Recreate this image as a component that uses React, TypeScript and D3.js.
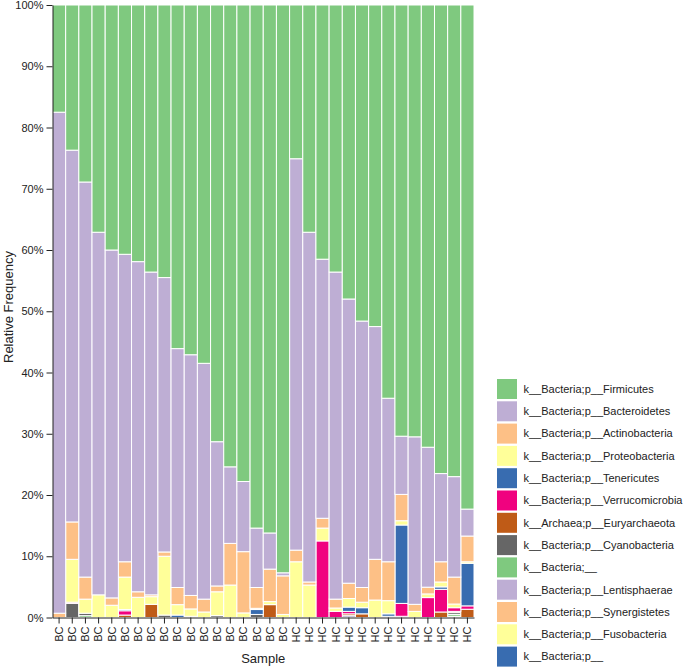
import React, { useEffect, useRef } from "react";
import * as d3 from "d3";

const samples = [
  "BC","BC","BC","BC","BC","BC","BC","BC","BC","BC","BC","BC","BC","BC","BC","BC","BC","BC",
  "HC","HC","HC","HC","HC","HC","HC","HC","HC","HC","HC","HC","HC","HC",
];

const taxa = [
  "k__Bacteria;p__Firmicutes",
  "k__Bacteria;p__Bacteroidetes",
  "k__Bacteria;p__Actinobacteria",
  "k__Bacteria;p__Proteobacteria",
  "k__Bacteria;p__Tenericutes",
  "k__Bacteria;p__Verrucomicrobia",
  "k__Archaea;p__Euryarchaeota",
  "k__Bacteria;p__Cyanobacteria",
  "k__Bacteria;__",
  "k__Bacteria;p__Lentisphaerae",
  "k__Bacteria;p__Synergistetes",
  "k__Bacteria;p__Fusobacteria",
  "k__Bacteria;p__",
];

// percentages per sample
const firmicutes = [17.5,23.7,28.9,37.1,40.0,40.7,41.9,43.6,44.5,56.1,57.1,58.5,71.3,75.4,77.8,85.4,86.2,92.7,25.1,37.1,41.5,43.6,48.0,51.6,52.5,64.2,70.4,70.5,72.2,76.5,77.0,82.3];
const bacteroidetes = [81.8,60.7,64.5,59.2,56.8,50.2,53.9,52.7,44.8,39.0,39.3,38.5,23.55,12.5,11.45,9.7,5.9,0.5,63.9,57.1,42.3,53.4,46.4,43.5,38.0,26.7,9.5,27.35,22.85,14.4,16.4,4.4];
const actinobacteria = [0.7,6.1,3.6,0,1.2,2.5,0.9,0.3,0.7,2.8,2.2,2.1,0.95,6.8,10.0,3.4,5.3,6.3,1.9,0.5,1.6,1.45,2.5,2.4,6.65,6.35,4.3,1.15,1.1,3.3,4.4,4.2];
const proteobacteria = [0,7.0,2.3,3.7,2.0,5.3,3.3,1.25,9.6,1.7,1.2,0.9,3.9,5.3,0.75,0.2,0.5,0.5,9.1,5.3,2.1,0.55,1.4,0.9,2.85,2.15,0.7,1.0,0.6,0.8,0.6,0.25];
const tenericutes = [0,0,0,0,0,0.2,0,0,0,0.4,0,0,0,0,0,0.8,0,0,0,0,0,0,0.7,1.0,0,0.4,12.8,0,0,0.4,0,6.95];
const verrucomicrobia = [0,0.2,0,0,0,0.7,0,0,0,0,0,0,0,0,0,0,0,0,0,0,12.5,1.0,0.4,0,0,0,2.1,0,3.25,3.7,0.6,0.55];
const euryarchaeota = [0,0,0,0,0,0.4,0,2.15,0,0,0.2,0,0,0,0,0,2.1,0,0,0,0,0,0.3,0.6,0,0,0,0,0,0.9,0.2,1.35];
const cyanobacteria = [0,2.3,0.4,0,0,0,0,0,0.4,0,0,0,0.3,0,0,0.5,0,0,0,0,0,0,0,0,0,0.2,0.2,0,0,0,0.3,0];
const bacteriaUnclassified = [0,0,0.3,0,0,0,0,0,0,0,0,0,0,0,0,0,0,0,0,0,0,0,0,0,0,0,0,0,0,0,0.3,0];
const lentisphaerae = [0,0,0,0,0,0,0,0,0,0,0,0,0,0,0,0,0,0,0,0,0,0,0.3,0,0,0,0,0,0,0,0,0];
const synergistetes = [0,0,0,0,0,0,0,0,0,0,0,0,0,0,0,0,0,0,0,0,0,0,0,0,0,0,0,0,0,0,0,0];
const fusobacteria = [0,0,0,0,0,0,0,0,0,0,0,0,0,0,0,0,0,0,0,0,0,0,0,0,0,0,0,0,0,0,0.2,0];
const bacteriaP = [0,0,0,0,0,0,0,0,0,0,0,0,0,0,0,0,0,0,0,0,0,0,0,0,0,0,0,0,0,0,0,0];

const seriesValues = [
  firmicutes, bacteroidetes, actinobacteria, proteobacteria, tenericutes,
  verrucomicrobia, euryarchaeota, cyanobacteria, bacteriaUnclassified,
  lentisphaerae, synergistetes, fusobacteria, bacteriaP,
];

const yTicks = [0, 0.1, 0.2, 0.3, 0.4, 0.5, 0.6, 0.7, 0.8, 0.9, 1.0];

export default function App() {
  const ref = useRef<SVGSVGElement>(null);

  useEffect(() => {
    const svg = d3.select(ref.current);
    svg.selectAll("*").remove();
    const W = 685, H = 668;
    const left = 52.5, right = 474, top = 5, bottom = 617.5;
    const font = "Liberation Sans, Arial, Helvetica, sans-serif";

    const rows = samples.map((s, i) => {
      const r: any = { idx: i, sample: s };
      let total = 0;
      taxa.forEach((t, k) => { total += seriesValues[k][i]; });
      taxa.forEach((t, k) => { r[t] = seriesValues[k][i] / total; });
      return r;
    });

    const x = d3.scaleBand<number>().domain(samples.map((_, i) => i)).range([left, right]).padding(0);
    const y = d3.scaleLinear().domain([0, 1]).range([bottom, top]);
    const color = d3.scaleOrdinal<string, string>().domain(taxa).range(d3.schemeAccent as string[]);

    const stackKeys = taxa.slice().reverse();
    const stacked = d3.stack<any>().keys(stackKeys)(rows);

    const g = svg.append("g");
    g.selectAll("g.layer")
      .data(stacked)
      .join("g")
      .attr("fill", (d: any) => color(d.key))
      .selectAll("rect")
      .data((d: any) => d)
      .join("rect")
      .attr("x", (d: any) => x(d.data.idx)!)
      .attr("width", x.bandwidth())
      .attr("y", (d: any) => y(d[1]))
      .attr("height", (d: any) => Math.max(0, y(d[0]) - y(d[1])))
      .attr("stroke", "#fff")
      .attr("stroke-width", 1)
      .attr("stroke-opacity", (d: any) => (d[1] - d[0] > 0 ? 1 : 0));

    const yAxis = svg.append("g")
      .attr("transform", `translate(${left},0)`)
      .call(d3.axisLeft(y).tickValues(yTicks).tickFormat(d3.format(".0%")).tickSizeOuter(0));
    yAxis.selectAll("text").attr("font-family", font).attr("font-size", 11).attr("fill", "#222");
    yAxis.selectAll("line,path").attr("stroke", "#222");

    const xAxis = svg.append("g")
      .attr("transform", `translate(0,${bottom})`)
      .call(d3.axisBottom(x).tickFormat((i: any) => samples[i]).tickSizeOuter(0));
    xAxis.selectAll("text")
      .attr("font-family", font).attr("font-size", 11).attr("fill", "#222")
      .attr("transform", "rotate(-90)")
      .attr("x", -9).attr("y", 0).attr("dy", "0.35em")
      .attr("text-anchor", "end");
    xAxis.selectAll("line,path").attr("stroke", "#222");

    svg.append("text")
      .attr("x", (left + right) / 2).attr("y", 662.5)
      .attr("text-anchor", "middle")
      .attr("font-family", font).attr("font-size", 13).attr("fill", "#222")
      .text("Sample");

    svg.append("text")
      .attr("transform", `translate(13,${307}) rotate(-90)`)
      .attr("text-anchor", "middle")
      .attr("font-family", font).attr("font-size", 13).attr("fill", "#222")
      .text("Relative Frequency");

    const lg = svg.append("g").attr("transform", "translate(497,379)");
    const item = lg.selectAll("g").data(taxa).join("g")
      .attr("transform", (_, i) => `translate(0,${i * 22.3})`);
    item.append("rect").attr("width", 20).attr("height", 20).attr("fill", (d) => color(d));
    item.append("text").attr("x", 26.5).attr("y", 10).attr("dy", "0.35em")
      .attr("font-family", font).attr("font-size", 11).attr("fill", "#222")
      .text((d) => d);
  }, []);

  return (
    <svg ref={ref} width={685} height={668}
      style={{ position: "absolute", left: 0, top: 0, background: "#fff" }} />
  );
}
